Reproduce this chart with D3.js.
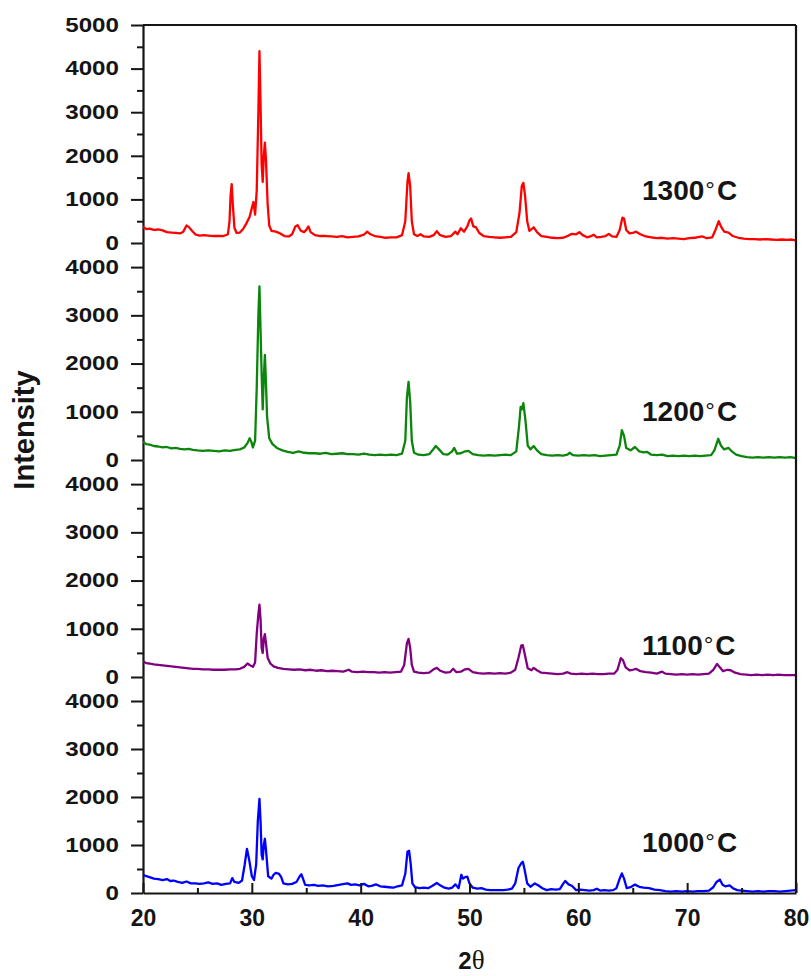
<!DOCTYPE html>
<html><head><meta charset="utf-8">
<script src="https://cdn.jsdelivr.net/npm/d3@7/dist/d3.min.js"></script>
<style>body{margin:0;background:#fff}svg{display:block}</style>
</head><body>
<svg id="c" width="811" height="976"></svg>
<script>
// ---------------- DATA ----------------
const temperatures = ["1300", "1200", "1100", "1000"];
const xTicks = [20, 30, 40, 50, 60, 70, 80];
const xMinorTicks = [25, 35, 45, 55, 65, 75];
const yTicksTop = [0, 1000, 2000, 3000, 4000, 5000];
const yTicks = [0, 1000, 2000, 3000, 4000];
const yMaxTop = 5000;
const yMax = 4500;

// [2theta, intensity]
const xrd1300 = [[20.0,370],[20.3,320],[20.6,330],[21.0,300],[21.4,310],[21.8,290],[22.2,250],[22.6,240],[23.0,230],[23.4,220],[23.7,260],[24.0,400],[24.2,370],[24.5,280],[24.8,200],[25.2,170],[25.6,180],[26.0,170],[26.5,160],[27.0,165],[27.4,160],[27.8,200],[27.95,500],[28.05,1100],[28.15,1350],[28.25,900],[28.4,350],[28.6,230],[28.9,240],[29.2,320],[29.5,450],[29.8,600],[30.0,800],[30.15,940],[30.3,650],[30.45,1200],[30.6,3000],[30.7,4400],[30.8,3200],[30.9,1800],[31.0,1400],[31.1,2000],[31.2,2300],[31.3,1900],[31.45,900],[31.6,400],[31.8,280],[32.2,260],[32.6,220],[33.0,160],[33.4,150],[33.7,200],[34.0,380],[34.2,410],[34.5,280],[34.8,250],[35.0,300],[35.2,380],[35.4,250],[35.8,180],[36.3,160],[36.8,160],[37.3,150],[37.8,140],[38.3,160],[38.8,130],[39.3,140],[39.8,150],[40.3,190],[40.6,260],[40.9,200],[41.3,160],[41.8,140],[42.3,120],[42.8,130],[43.3,130],[43.8,180],[44.1,500],[44.3,1400],[44.4,1600],[44.55,1300],[44.7,500],[44.9,200],[45.2,160],[45.5,200],[45.8,150],[46.3,140],[46.7,180],[47.0,270],[47.3,180],[47.8,140],[48.3,160],[48.7,260],[48.9,200],[49.2,340],[49.5,260],[49.8,380],[50.0,520],[50.15,560],[50.35,380],[50.6,360],[50.9,230],[51.3,160],[51.8,140],[52.3,130],[52.8,120],[53.3,130],[53.8,140],[54.3,250],[54.6,700],[54.8,1300],[54.95,1380],[55.1,1100],[55.3,500],[55.5,280],[55.9,360],[56.2,250],[56.6,160],[57.1,140],[57.6,120],[58.1,110],[58.6,120],[59.1,170],[59.4,210],[59.8,200],[60.1,250],[60.4,180],[60.8,130],[61.1,150],[61.4,190],[61.7,130],[62.1,140],[62.5,160],[62.8,210],[63.1,150],[63.5,140],[63.8,300],[64.05,580],[64.2,560],[64.4,300],[64.7,220],[65.0,230],[65.3,260],[65.7,200],[66.2,150],[66.7,130],[67.2,110],[67.7,120],[68.2,100],[68.7,110],[69.2,100],[69.7,90],[70.2,110],[70.7,120],[71.1,140],[71.4,150],[71.8,110],[72.3,130],[72.6,300],[72.9,500],[73.1,380],[73.4,260],[73.8,240],[74.2,160],[74.7,120],[75.2,100],[75.7,90],[76.2,90],[76.7,80],[77.2,90],[77.7,80],[78.2,70],[78.7,80],[79.2,70],[79.6,80],[80.0,60]];

const xrd1200 = [[20.0,380],[20.3,330],[20.6,320],[21.0,290],[21.4,280],[21.8,260],[22.2,270],[22.6,240],[23.0,250],[23.4,230],[23.8,220],[24.2,230],[24.6,210],[25.0,200],[25.5,190],[26.0,200],[26.5,190],[27.0,180],[27.5,200],[28.0,190],[28.5,210],[28.9,220],[29.3,260],[29.6,350],[29.8,450],[29.95,380],[30.1,260],[30.3,400],[30.45,1500],[30.6,3000],[30.7,3600],[30.8,2700],[30.9,1800],[31.0,1050],[31.1,1700],[31.2,2180],[31.3,1600],[31.4,900],[31.6,450],[31.9,330],[32.3,250],[32.8,200],[33.3,170],[33.8,150],[34.3,180],[34.8,150],[35.3,140],[35.8,140],[36.3,130],[36.8,150],[37.3,120],[37.8,130],[38.3,140],[38.8,120],[39.3,120],[39.8,110],[40.3,130],[40.8,110],[41.3,100],[41.8,110],[42.3,100],[42.8,110],[43.3,100],[43.8,130],[44.1,400],[44.25,1300],[44.4,1620],[44.55,1200],[44.7,400],[44.9,150],[45.3,110],[45.8,100],[46.3,120],[46.6,200],[46.9,290],[47.2,220],[47.6,120],[48.0,110],[48.4,180],[48.6,250],[48.85,130],[49.2,140],[49.6,180],[49.9,190],[50.3,120],[50.8,100],[51.3,90],[51.8,100],[52.3,90],[52.8,100],[53.3,110],[53.8,100],[54.3,180],[54.55,700],[54.7,1100],[54.8,1050],[54.95,1180],[55.15,800],[55.35,300],[55.6,220],[55.9,290],[56.2,200],[56.6,120],[57.1,100],[57.6,90],[58.1,100],[58.6,90],[59.0,110],[59.2,150],[59.5,100],[60.0,90],[60.5,100],[61.0,90],[61.5,100],[62.0,80],[62.5,90],[63.0,100],[63.5,110],[63.8,300],[64.0,620],[64.2,500],[64.4,250],[64.8,200],[65.2,270],[65.6,180],[66.0,160],[66.3,170],[66.7,110],[67.2,100],[67.7,110],[68.2,80],[68.7,90],[69.2,80],[69.7,90],[70.2,80],[70.7,90],[71.2,80],[71.7,90],[72.2,100],[72.5,200],[72.85,440],[73.1,300],[73.4,220],[73.8,250],[74.1,180],[74.5,110],[75.0,80],[75.5,60],[76.0,50],[76.5,60],[77.0,50],[77.5,60],[78.0,50],[78.5,60],[79.0,50],[79.5,60],[80.0,40]];

const xrd1100 = [[20.0,320],[20.3,290],[20.6,280],[21.0,260],[21.4,250],[21.8,240],[22.2,230],[22.6,220],[23.0,210],[23.4,200],[23.8,190],[24.2,180],[24.6,170],[25.0,170],[25.5,160],[26.0,160],[26.5,150],[27.0,150],[27.5,150],[28.0,160],[28.5,160],[28.9,170],[29.3,210],[29.6,280],[29.8,250],[30.1,210],[30.3,300],[30.45,900],[30.6,1300],[30.7,1500],[30.8,1200],[30.9,600],[31.0,500],[31.1,800],[31.2,890],[31.3,700],[31.45,400],[31.7,280],[32.0,220],[32.4,190],[32.9,170],[33.4,160],[33.9,150],[34.4,160],[34.9,140],[35.4,150],[35.9,130],[36.4,140],[36.9,120],[37.4,130],[37.9,120],[38.4,110],[38.9,150],[39.2,110],[39.7,100],[40.2,110],[40.7,100],[41.2,100],[41.7,90],[42.2,100],[42.7,90],[43.2,100],[43.7,110],[44.0,250],[44.25,700],[44.4,790],[44.55,600],[44.7,250],[44.9,110],[45.3,90],[45.8,80],[46.3,90],[46.7,160],[47.0,190],[47.3,130],[47.8,90],[48.2,100],[48.5,170],[48.8,100],[49.2,110],[49.6,160],[49.9,170],[50.3,100],[50.8,80],[51.3,70],[51.8,80],[52.3,70],[52.8,80],[53.3,70],[53.8,90],[54.2,150],[54.5,400],[54.75,650],[54.9,660],[55.1,450],[55.35,180],[55.7,140],[55.9,190],[56.2,140],[56.6,90],[57.1,80],[57.6,70],[58.1,60],[58.6,70],[59.0,100],[59.3,70],[59.8,60],[60.3,70],[60.8,60],[61.3,70],[61.8,60],[62.3,60],[62.8,70],[63.3,70],[63.6,150],[63.9,390],[64.1,350],[64.35,200],[64.7,140],[65.0,150],[65.3,170],[65.7,120],[66.2,100],[66.7,90],[67.2,70],[67.7,110],[68.0,70],[68.5,60],[69.0,50],[69.5,60],[70.0,50],[70.5,60],[71.0,50],[71.5,60],[72.0,70],[72.4,150],[72.75,270],[73.0,200],[73.3,120],[73.7,150],[74.0,140],[74.4,90],[74.9,60],[75.4,50],[75.9,40],[76.4,50],[76.9,40],[77.4,50],[77.9,40],[78.4,50],[78.9,40],[79.4,40],[80.0,40]];

const xrd1000 = [[20.0,380],[20.3,350],[20.6,330],[21.0,300],[21.4,290],[21.8,270],[22.2,290],[22.5,250],[22.8,260],[23.2,230],[23.6,210],[24.0,240],[24.4,200],[24.8,200],[25.2,190],[25.6,200],[26.0,220],[26.4,190],[26.8,200],[27.2,170],[27.6,190],[28.0,200],[28.2,310],[28.4,230],[28.8,210],[29.1,260],[29.35,600],[29.55,920],[29.75,700],[30.0,350],[30.2,270],[30.4,600],[30.55,1500],[30.7,1960],[30.8,1500],[30.9,800],[31.0,700],[31.1,1000],[31.2,1130],[31.3,900],[31.5,350],[31.8,300],[32.0,380],[32.2,420],[32.5,400],[32.7,330],[32.9,200],[33.3,180],[33.7,190],[34.1,230],[34.4,350],[34.55,390],[34.7,300],[34.9,170],[35.3,160],[35.7,170],[36.1,150],[36.5,160],[37.0,140],[37.5,150],[38.0,170],[38.5,190],[38.8,200],[39.1,170],[39.5,180],[39.9,160],[40.3,190],[40.7,140],[41.0,150],[41.4,180],[41.8,140],[42.2,130],[42.6,120],[43.0,110],[43.4,140],[43.8,160],[44.1,400],[44.3,860],[44.45,880],[44.6,600],[44.75,200],[45.0,120],[45.4,100],[45.8,110],[46.2,100],[46.6,150],[47.0,210],[47.3,160],[47.7,110],[48.1,90],[48.4,110],[48.7,180],[49.0,100],[49.25,380],[49.4,300],[49.6,330],[49.8,340],[50.0,200],[50.3,110],[50.7,90],[51.1,100],[51.5,70],[51.9,60],[52.3,60],[52.7,60],[53.1,60],[53.5,70],[53.9,90],[54.2,200],[54.5,520],[54.75,620],[54.9,650],[55.05,500],[55.3,200],[55.6,130],[56.0,200],[56.3,160],[56.7,100],[57.1,60],[57.5,80],[57.9,70],[58.3,80],[58.6,190],[58.8,250],[59.1,180],[59.4,150],[59.8,60],[60.2,70],[60.6,60],[61.0,50],[61.4,60],[61.7,90],[62.0,50],[62.4,60],[62.8,50],[63.2,60],[63.5,100],[63.8,300],[64.0,410],[64.2,300],[64.45,100],[64.8,120],[65.2,175],[65.6,130],[66.0,110],[66.5,100],[67.0,70],[67.5,60],[68.0,40],[68.5,30],[69.0,40],[69.5,30],[70.0,40],[70.5,30],[71.0,40],[71.5,40],[72.0,50],[72.4,120],[72.7,230],[73.0,280],[73.25,170],[73.5,140],[73.9,160],[74.2,100],[74.6,60],[75.0,50],[75.5,40],[76.0,30],[76.5,40],[77.0,30],[77.5,40],[78.0,40],[78.5,30],[79.0,40],[79.5,50],[80.0,60]];

// ---------------- LAYOUT / STYLE ----------------
const seriesData = [xrd1300, xrd1200, xrd1100, xrd1000];
const seriesColor = ["#ff0000", "#0b850b", "#800080", "#0000ff"];
const panelTop = [25, 243, 460, 677];
const panelBottom = [243, 460, 677, 893];
const labelLevel = [980, 810, 456, 854];
const labelX = 65.85;
const X0 = 143, X1 = 796;

const svg = d3.select("#c");
const x = d3.scaleLinear().domain([20, 80]).range([X0, X1]);
const ink = "#151515";
const sx = 1.24;
const fmt = d3.format("d");

temperatures.forEach((t, i) => {
  const max = i === 0 ? yMaxTop : yMax;
  const ticks = i === 0 ? yTicksTop : yTicks;
  const y = d3.scaleLinear().domain([0, max]).range([panelBottom[i], panelTop[i]]);

  // minor ticks
  const minor = svg.append("g").attr("transform", `translate(${X0},0)`)
    .call(d3.axisLeft(y).tickValues(d3.range(500, max, 1000)).tickSize(6).tickFormat(""));
  minor.select(".domain").remove();
  minor.selectAll("line").attr("stroke", ink).attr("stroke-width", 2);

  // major ticks
  const major = svg.append("g").attr("transform", `translate(${X0},0)`)
    .call(d3.axisLeft(y).tickValues(ticks).tickFormat(fmt).tickSizeInner(12).tickSizeOuter(0).tickPadding(12));
  major.select(".domain").attr("stroke", ink).attr("stroke-width", 2.2);
  major.selectAll("line").attr("stroke", ink).attr("stroke-width", 2);
  major.selectAll("text")
    .attr("font-family", "'Liberation Sans', Arial, sans-serif")
    .attr("font-weight", "bold")
    .attr("font-size", 19.5)
    .attr("fill", ink)
    .attr("x", -24 / sx)
    .attr("transform", `scale(${sx},1)`);

  // trace
  const line = d3.line().x(d => x(d[0])).y(d => y(d[1]));
  svg.append("path")
    .datum(seriesData[i])
    .attr("d", line)
    .attr("fill", "none")
    .attr("stroke", seriesColor[i])
    .attr("stroke-width", 2.3)
    .attr("stroke-linejoin", "round");

  // temperature label
  const lab = svg.append("text")
    .attr("x", x(labelX))
    .attr("y", y(labelLevel[i]))
    .attr("font-family", "'Liberation Sans', Arial, sans-serif")
    .attr("font-weight", "bold")
    .attr("font-size", 28)
    .attr("fill", ink);
  lab.append("tspan").text(t);
  lab.append("tspan").attr("font-size", 24).attr("font-weight", "normal").attr("dx", 1).attr("dy", -2).text("°");
  lab.append("tspan").attr("dx", 2).attr("dy", 2).text("C");
});

// bottom axis
const xMinor = svg.append("g").attr("transform", `translate(0,${panelBottom[3]})`)
  .call(d3.axisBottom(x).tickValues(xMinorTicks).tickSize(-5).tickFormat(""));
xMinor.select(".domain").remove();
xMinor.selectAll("line").attr("stroke", ink).attr("stroke-width", 2);

const xAxis = svg.append("g").attr("transform", `translate(0,${panelBottom[3]})`)
  .call(d3.axisBottom(x).tickValues(xTicks).tickFormat(fmt).tickSizeInner(-10).tickSizeOuter(0).tickPadding(17));
xAxis.select(".domain").attr("stroke", ink).attr("stroke-width", 2.2);
xAxis.selectAll("line").attr("stroke", ink).attr("stroke-width", 2);
xAxis.selectAll("text")
  .attr("font-family", "'Liberation Sans', Arial, sans-serif")
  .attr("font-weight", "bold")
  .attr("font-size", 23)
  .attr("fill", ink);

// frame: top and right
svg.append("line").attr("x1", X0).attr("x2", X1).attr("y1", panelTop[0]).attr("y2", panelTop[0])
  .attr("stroke", ink).attr("stroke-width", 2.2);
svg.append("line").attr("x1", X1).attr("x2", X1).attr("y1", panelTop[0]).attr("y2", panelBottom[3])
  .attr("stroke", ink).attr("stroke-width", 2.2);

// axis titles
svg.append("text")
  .attr("transform", "translate(34,430) rotate(-90)")
  .attr("text-anchor", "middle")
  .attr("font-family", "'Liberation Sans', Arial, sans-serif")
  .attr("font-weight", "bold")
  .attr("font-size", 29)
  .attr("fill", ink)
  .text("Intensity");

const xt = svg.append("text")
  .attr("x", (X0 + X1) / 2 + 2)
  .attr("y", 969)
  .attr("text-anchor", "middle")
  .attr("fill", ink);
xt.append("tspan").attr("font-family", "'Liberation Sans', Arial, sans-serif").attr("font-weight", "bold").attr("font-size", 24).text("2");
xt.append("tspan").attr("font-family", "'Liberation Serif', 'Times New Roman', serif").attr("font-size", 27).text("θ");
</script>
</body></html>
